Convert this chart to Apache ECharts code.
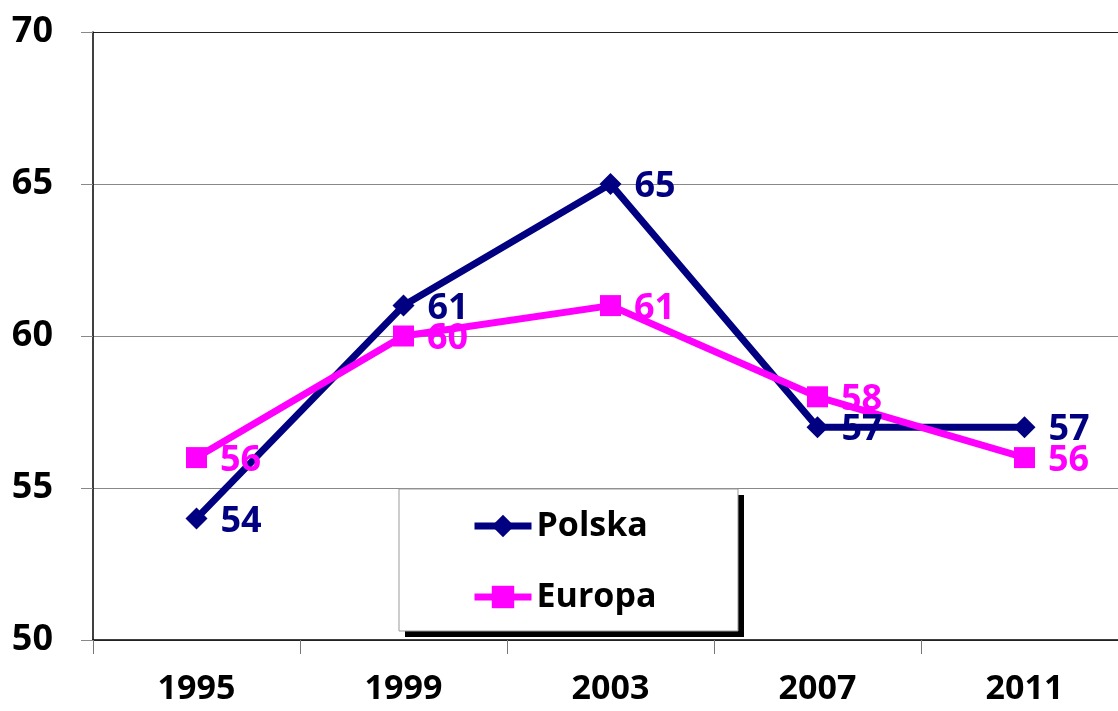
<!DOCTYPE html>
<html>
<head>
<meta charset="utf-8">
<script src="https://cdn.jsdelivr.net/npm/echarts@6/dist/echarts.min.js"></script>
<style>
  html, body { margin: 0; padding: 0; background: #fff; }
  #chart { width: 1118px; height: 711px; }
</style>
</head>
<body>
<div id="chart"></div>
<script>
// dane z wykresu
const years = ['1995', '1999', '2003', '2007', '2011'];
const polska = [54, 61, 65, 57, 57];
const europa = [56, 60, 61, 58, 56];

const FONT = '"Open Sans", "Noto Sans", sans-serif';

// ramka legendy (z cieniem jak w Excelu)
const legendBox = { x: 399, y: 489, w: 339, h: 142, shadow: 6 };

const chart = echarts.init(document.getElementById('chart'));

function makeSeries(name, data, color, symbol, size) {
  return {
    name: name,
    type: 'line',
    data: data,
    symbol: symbol,
    symbolSize: size,
    lineStyle: { color: color, width: 7 },
    itemStyle: { color: color },
    label: {
      show: true,
      position: 'right',
      distance: 13,
      offset: [0, 3],
      color: color,
      fontFamily: FONT,
      fontWeight: 'bold',
      fontSize: 36
    },
    animation: false
  };
}

chart.setOption({
  backgroundColor: '#fff',
  animation: false,
  grid: {
    left: 93, top: 32, width: 1035, height: 608,
    outerBoundsMode: 'none'
  },
  graphic: [
    {
      type: 'rect', z: 3, silent: true,
      shape: { x: legendBox.x + legendBox.shadow, y: legendBox.y + legendBox.shadow,
               width: legendBox.w, height: legendBox.h },
      style: { fill: '#000' }
    },
    {
      type: 'rect', z: 3, silent: true,
      shape: { x: legendBox.x, y: legendBox.y, width: legendBox.w, height: legendBox.h },
      style: { fill: '#fff', stroke: '#999', lineWidth: 1 }
    }
  ],
  legend: {
    orient: 'vertical',
    left: legendBox.x, top: legendBox.y,
    padding: [19, 0, 17, 72],
    itemGap: 35,
    itemWidth: 57,
    itemHeight: 28,
    lineStyle: { width: 7 },
    textStyle: {
      color: '#000', fontFamily: FONT, fontWeight: 'bold',
      fontSize: 34, lineHeight: 36, padding: [0, 0, 0, 0]
    },
    data: ['Polska', 'Europa']
  },
  xAxis: {
    type: 'category',
    data: years,
    axisLine: { lineStyle: { color: '#000', width: 1.5 } },
    axisTick: { show: true, length: 14, lineStyle: { color: '#777', width: 1 } },
    axisLabel: {
      margin: 32, color: '#000', fontFamily: FONT,
      fontWeight: 'bold', fontSize: 34
    }
  },
  yAxis: {
    type: 'value',
    min: 50, max: 70, interval: 5,
    axisLine: { show: true, lineStyle: { color: '#000', width: 1.5 } },
    axisTick: { show: true, length: 12, lineStyle: { color: '#888' } },
    splitLine: {
      show: true,
      lineStyle: { color: ['#888', '#888', '#888', '#888', '#222'], width: 1.2 }
    },
    axisLabel: {
      margin: 40, color: '#000', fontFamily: FONT,
      fontWeight: 'bold', fontSize: 36
    }
  },
  series: [
    makeSeries('Polska', polska, '#000080', 'diamond', 22),
    makeSeries('Europa', europa, '#FF00FF', 'rect', 21)
  ]
});
</script>
</body>
</html>
